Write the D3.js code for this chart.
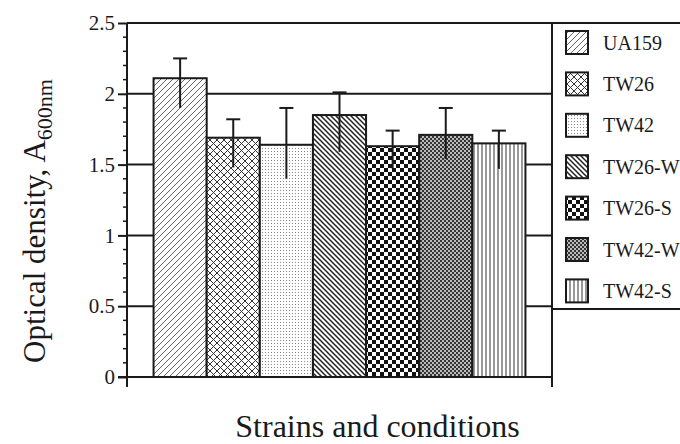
<!DOCTYPE html>
<html>
<head>
<meta charset="utf-8">
<script src="https://cdn.jsdelivr.net/npm/d3@7"></script>
<style>
  body { margin: 0; background: #fff; }
  svg { display: block; }
  svg text { font-family: "Liberation Serif", "DejaVu Serif", serif; }
</style>
</head>
<body>
<svg id="chart" width="680" height="444"></svg>
<script>
// ── Data ──────────────────────────────────────────────────
const categories = ['UA159', 'TW26', 'TW42', 'TW26-W', 'TW26-S', 'TW42-W', 'TW42-S'];
const values     = [2.11, 1.69, 1.64, 1.85, 1.63, 1.71, 1.65];
const errHigh    = [2.25, 1.82, 1.90, 2.01, 1.74, 1.90, 1.74];  // top of whisker
const errLow     = [1.90, 1.48, 1.40, 1.59, 1.47, 1.54, 1.47];  // bottom of whisker
const yTicks     = [0, 0.5, 1, 1.5, 2, 2.5];
const yTickLabels = ['0', '0.5', '1', '1.5', '2', '2.5'];
const patterns   = ['p-fwd', 'p-cross', 'p-dots', 'p-back', 'p-check', 'p-fine', 'p-vert'];

const INK = '#1a1a1a';
const SERIF = '"Liberation Serif", "DejaVu Serif", serif';

// ── Layout ────────────────────────────────────────────────
const M = { left: 127, right: 552, top: 23, bottom: 377 };

const svg = d3.select('#chart');

const x = d3.scaleBand()
  .domain(categories)
  .range([M.left, M.right])
  .paddingInner(0)
  .paddingOuter(0.5);

const y = d3.scaleLinear()
  .domain([0, 2.5])
  .range([M.bottom, M.top]);

// ── Patterns ──────────────────────────────────────────────
const defs = svg.append('defs');

function pat(id, w, h) {
  const p = defs.append('pattern')
    .attr('id', id)
    .attr('patternUnits', 'userSpaceOnUse')
    .attr('width', w).attr('height', h);
  p.append('rect').attr('width', w).attr('height', h).attr('fill', '#fff');
  return p;
}

// forward diagonal, thin grey
pat('p-fwd', 6, 6).append('path')
  .attr('d', 'M0,6 L6,0 M-1,1 L1,-1 M5,7 L7,5')
  .attr('stroke', '#666').attr('stroke-width', 1);

// diagonal crosshatch
pat('p-cross', 7, 7).append('path')
  .attr('d', 'M0,7 L7,0 M-1,1 L1,-1 M6,8 L8,6 M0,0 L7,7 M-1,6 L1,8 M6,-1 L8,1')
  .attr('stroke', '#333').attr('stroke-width', 1);

// light stipple
pat('p-dots', 3, 3).append('rect')
  .attr('x', 1).attr('y', 1).attr('width', 1).attr('height', 1)
  .attr('fill', '#888');

// backward diagonal, heavier
pat('p-back', 5, 5).append('path')
  .attr('d', 'M0,0 L5,5 M-1,4 L1,6 M4,-1 L6,1')
  .attr('stroke', '#222').attr('stroke-width', 1.5);

// coarse checkerboard
{
  const p = pat('p-check', 8, 8);
  p.append('rect').attr('x', 0).attr('y', 0).attr('width', 4).attr('height', 4).attr('fill', '#111');
  p.append('rect').attr('x', 4).attr('y', 4).attr('width', 4).attr('height', 4).attr('fill', '#111');
}

// fine checkerboard
{
  const p = pat('p-fine', 4, 4);
  p.select('rect').attr('fill', '#bbb');
  p.append('rect').attr('x', 0).attr('y', 0).attr('width', 2).attr('height', 2).attr('fill', '#333');
  p.append('rect').attr('x', 2).attr('y', 2).attr('width', 2).attr('height', 2).attr('fill', '#333');
}

// vertical lines
pat('p-vert', 4, 4).append('path')
  .attr('d', 'M2,0 L2,4')
  .attr('stroke', '#555').attr('stroke-width', 1.2);

// ── Grid lines ────────────────────────────────────────────
svg.append('g')
  .selectAll('line')
  .data(yTicks.filter(d => d > 0))
  .enter()
  .append('line')
  .attr('x1', M.left)
  .attr('x2', d => d === 2.5 ? 680 : M.right)
  .attr('y1', d => y(d))
  .attr('y2', d => y(d))
  .attr('stroke', INK)
  .attr('stroke-width', 2);

// right frame line
svg.append('line')
  .attr('x1', M.right).attr('x2', M.right)
  .attr('y1', M.top).attr('y2', M.bottom + 10)
  .attr('stroke', INK).attr('stroke-width', 2);

// ── Bars ──────────────────────────────────────────────────
svg.append('g')
  .selectAll('rect')
  .data(categories)
  .enter()
  .append('rect')
  .attr('x', d => x(d))
  .attr('y', (d, i) => y(values[i]))
  .attr('width', x.bandwidth())
  .attr('height', (d, i) => y(0) - y(values[i]))
  .attr('fill', (d, i) => `url(#${patterns[i]})`)
  .attr('stroke', INK)
  .attr('stroke-width', 2);

// ── Error bars ────────────────────────────────────────────
const err = svg.append('g').attr('stroke', INK).attr('stroke-width', 2);
categories.forEach((c, i) => {
  const cx = x(c) + x.bandwidth() / 2;
  err.append('line')
    .attr('x1', cx).attr('x2', cx)
    .attr('y1', y(errLow[i])).attr('y2', y(errHigh[i]));
  err.append('line')
    .attr('x1', cx - 7).attr('x2', cx + 7)
    .attr('y1', y(errHigh[i])).attr('y2', y(errHigh[i]));
});

// ── Axes ──────────────────────────────────────────────────
// minor ticks
svg.append('g')
  .selectAll('line')
  .data(d3.range(0, 26).map(d => d / 10).filter(d => Math.round(d * 10) % 5 !== 0))
  .enter()
  .append('line')
  .attr('x1', M.left - 4).attr('x2', M.left)
  .attr('y1', d => y(d)).attr('y2', d => y(d))
  .attr('stroke', INK).attr('stroke-width', 1.5);

const yAxis = svg.append('g')
  .attr('transform', `translate(${M.left},0)`)
  .call(d3.axisLeft(y)
    .tickValues(yTicks)
    .tickFormat((d, i) => yTickLabels[i])
    .tickSize(9)
    .tickPadding(3))
  .attr('font-family', SERIF)
  .attr('font-size', 21);
yAxis.select('.domain').remove();
yAxis.selectAll('.tick line').attr('stroke', INK).attr('stroke-width', 2);
yAxis.selectAll('.tick text').attr('fill', INK);

// y axis line
svg.append('line')
  .attr('x1', M.left).attr('x2', M.left)
  .attr('y1', M.top).attr('y2', M.bottom + 10)
  .attr('stroke', INK).attr('stroke-width', 2);

// x axis line
svg.append('line')
  .attr('x1', M.left - 9).attr('x2', M.right)
  .attr('y1', M.bottom).attr('y2', M.bottom)
  .attr('stroke', INK).attr('stroke-width', 2);

// ── Axis titles ───────────────────────────────────────────
svg.append('text')
  .attr('x', (M.left + M.right) / 2 + 38)
  .attr('y', 437)
  .attr('text-anchor', 'middle')
  .attr('fill', INK)
  .style('font-family', SERIF)
  .style('font-size', '32px')
  .text('Strains and conditions');

const yTitle = svg.append('text')
  .attr('transform', 'translate(45,221) rotate(-90)')
  .attr('text-anchor', 'middle')
  .attr('fill', INK)
  .style('font-family', SERIF)
  .style('font-size', '31px');
yTitle.append('tspan').text('Optical density, A');
yTitle.append('tspan')
  .attr('dy', 7)
  .style('font-size', '22px')
  .text('600nm');

// ── Legend ────────────────────────────────────────────────
svg.append('line')
  .attr('x1', M.right).attr('x2', 680)
  .attr('y1', 309).attr('y2', 309)
  .attr('stroke', INK).attr('stroke-width', 2);

const legend = svg.append('g');
categories.forEach((c, i) => {
  const cy = 42.5 + i * 41.4;
  legend.append('rect')
    .attr('x', 566).attr('y', cy - 11.5)
    .attr('width', 22).attr('height', 23)
    .attr('fill', `url(#${patterns[i]})`)
    .attr('stroke', INK).attr('stroke-width', 2);
  legend.append('text')
    .attr('x', 603).attr('y', cy)
    .attr('dy', '0.35em')
    .attr('fill', INK)
    .style('font-family', SERIF)
    .style('font-size', '20px')
    .text(c);
});
</script>
</body>
</html>
